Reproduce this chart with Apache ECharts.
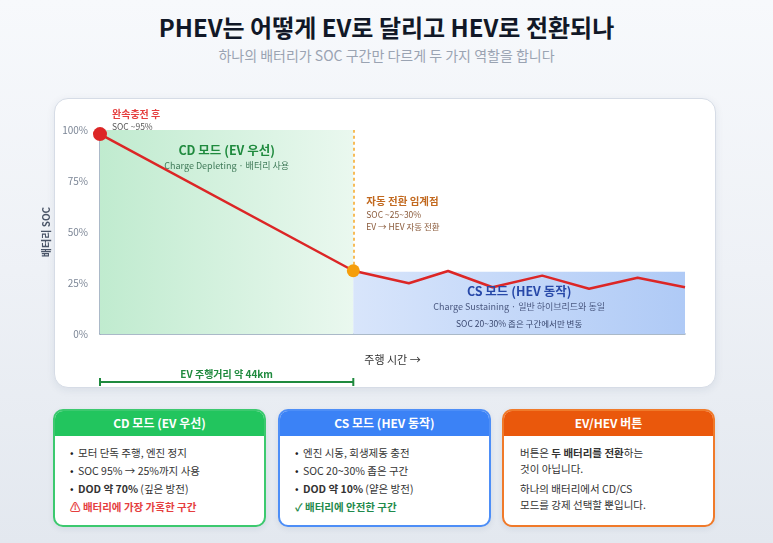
<!DOCTYPE html>
<html><head><meta charset="utf-8">
<script src="https://cdn.jsdelivr.net/npm/echarts@6/dist/echarts.min.js"></script>
<style>
*{box-sizing:border-box;margin:0;padding:0}
body{width:773px;height:543px;overflow:hidden;font-family:"Noto Sans CJK KR","Noto Sans",sans-serif;background:linear-gradient(180deg,#f7f9fc 0%,#eef1f6 50%,#e3e8ef 100%);position:relative;color:#222}
#title{position:absolute;left:0;width:773px;top:10px;text-align:center;font-size:24px;line-height:34px;font-weight:700;color:#111827}
#sub{position:absolute;left:0;width:773px;top:45px;text-align:center;font-size:14px;line-height:20px;color:#9aa3b2}
#card{position:absolute;left:54px;top:98px;width:662px;height:290px;background:#fff;border:1px solid #d6dce6;border-radius:14px;box-shadow:0 2px 8px rgba(30,50,90,0.08)}
#chart{position:absolute;left:0;top:0;width:773px;height:400px}
.box{position:absolute;top:409px;width:213px;height:118px;background:#fff;border:2px solid;border-radius:10px;overflow:hidden;box-shadow:0 2px 6px rgba(30,50,90,0.08)}
.hd{height:25px;line-height:24px;text-align:center;color:#fff;font-weight:700;font-size:12px}
.bd{padding:8px 0 0 15px;font-size:10.5px;color:#333}
.bd .ln{height:18px;line-height:18px}
.bd .ln:before{content:"•";display:inline-block;width:8px;color:#222}
.bd .ln.nb:before{content:none}
.b3 .bd p{line-height:16px}
</style></head><body>
<div id="title">PHEV는 어떻게 EV로 달리고 HEV로 전환되나</div>
<div id="sub">하나의 배터리가 SOC 구간만 다르게 두 가지 역할을 합니다</div>
<div id="card"></div>
<div id="chart"></div>

<div class="box" style="left:53px;border-color:#3cc96f">
  <div class="hd" style="background:#22c55e">CD 모드 (EV 우선)</div>
  <div class="bd">
    <div class="ln">모터 단독 주행, 엔진 정지</div>
    <div class="ln">SOC 95% → 25%까지 사용</div>
    <div class="ln"><b>DOD 약 70%</b> (깊은 방전)</div>
    <div class="ln nb" style="color:#e53e3e;font-weight:700">⚠ 배터리에 가장 가혹한 구간</div>
  </div>
</div>
<div class="box" style="left:278px;border-color:#4d8ef7">
  <div class="hd" style="background:#3b82f6">CS 모드 (HEV 동작)</div>
  <div class="bd">
    <div class="ln">엔진 시동, 회생제동 충전</div>
    <div class="ln">SOC 20~30% 좁은 구간</div>
    <div class="ln"><b>DOD 약 10%</b> (얕은 방전)</div>
    <div class="ln nb" style="color:#1f8a4c;font-weight:700">✓ 배터리에 안전한 구간</div>
  </div>
</div>
<div class="box b3" style="left:502px;border-color:#f07a2a">
  <div class="hd" style="background:#ea580c">EV/HEV 버튼</div>
  <div class="bd" style="padding-left:16px;padding-top:9px">
    <p>버튼은 <b>두 배터리를 전환</b>하는</p>
    <p>것이 아닙니다.</p>
    <p style="margin-top:4px">하나의 배터리에서 CD/CS</p>
    <p>모드를 강제 선택할 뿐입니다.</p>
  </div>
</div>

<script>
// ---- data ----
const timeX = [0, 43.3, 52.8, 59.5, 67.1, 75.6, 83.6, 91.9, 100];
const socY  = [98, 31, 24.9, 30.9, 22.9, 28.6, 22.2, 27.6, 22.9];
const switchIndex = 1;
const csBandTop = 30.5;
const yTicks = [0, 25, 50, 75, 100];

const F = '"Noto Sans CJK KR","Noto Sans",sans-serif';
const chart = echarts.init(document.getElementById('chart'), null, {renderer:'canvas'});
const lineData = timeX.map((x,i)=>[x, socY[i]]);
const switchX = timeX[switchIndex];

const option = {
  animation:false,
  textStyle:{fontFamily:F},
  grid:{left:100, right:88, top:130, bottom:66, containLabel:false, outerBoundsMode:'none'},
  xAxis:{type:'value', min:0, max:100, axisLabel:{show:false}, axisTick:{show:false}, splitLine:{show:false},
    axisLine:{lineStyle:{color:'#8fa2b6', width:1.5}},
    name:'주행 시간 →', nameLocation:'middle', nameGap:20,
    nameTextStyle:{color:'#333', fontSize:11, fontFamily:F}},
  yAxis:{type:'value', min:yTicks[0], max:yTicks[yTicks.length-1], interval:25,
    axisLabel:{formatter:'{value}%', color:'#7c8696', fontSize:10, margin:12, fontFamily:F},
    axisTick:{show:false}, splitLine:{show:false},
    axisLine:{show:true, lineStyle:{color:'#8fa2b6', width:1.5}},
    name:'배터리 SOC', nameLocation:'middle', nameRotate:90, nameGap:44,
    nameTextStyle:{color:'#4a5568', fontSize:10, fontWeight:'bold', fontFamily:F}},
  series:[
    {type:'line', data:lineData, symbol:'none', z:5,
     lineStyle:{color:'#dc2626', width:2.5},
     markArea:{silent:true, z:1, data:[
       [{coord:[0,100], itemStyle:{color:new echarts.graphic.LinearGradient(0,0,1,0,[{offset:0,color:'#c0ebcf'},{offset:1,color:'#eaf8ef'}])}},{coord:[switchX,0]}],
       [{coord:[switchX,csBandTop], itemStyle:{color:new echarts.graphic.LinearGradient(0,0,1,0,[{offset:0,color:'#d8e5fb'},{offset:1,color:'#afcaf6'}])}},{coord:[100,0]}]
     ]},
     markLine:{silent:true, symbol:'none', label:{show:false}, lineStyle:{color:'#f5a623', width:1.5, type:[3,3]},
       data:[[{coord:[switchX, socY[switchIndex]]},{coord:[switchX,100]}]]}
    },
    {type:'scatter', z:6, itemStyle:{opacity:1}, data:[
      {value:lineData[0], symbolSize:14, itemStyle:{color:'#dc2626', opacity:1}},
      {value:lineData[switchIndex], symbolSize:13, itemStyle:{color:'#f59e0b', opacity:1}}
    ]}
  ]
};
chart.setOption(option);

const p0 = chart.convertToPixel({gridIndex:0},[0,100]);
const pS = chart.convertToPixel({gridIndex:0},[switchX,100]);
const pB = chart.convertToPixel({gridIndex:0},[0,0]);
const pE = chart.convertToPixel({gridIndex:0},[100,csBandTop]);
const cdMid = (p0[0]+pS[0])/2;
const csMid = (pS[0]+pE[0])/2;
function T(x,y,text,size,color,bold,align){
  return {type:'text', x:x, y:y, style:{text:text, fontSize:size, fill:color, fontWeight:bold?'bold':'normal', fontFamily:F, align:align||'left', verticalAlign:'middle'}, z:20};
}
const bY = pB[1]+48;
chart.setOption({graphic:[
  T(p0[0]+12, p0[1]-16, '완속충전 후', 10, '#e53e3e', true),
  T(p0[0]+12, p0[1]-3, 'SOC ~95%', 8.5, '#555', false),
  T(cdMid, p0[1]+20, 'CD 모드 (EV 우선)', 12.5, '#1f8a3e', true, 'center'),
  T(cdMid, p0[1]+36, 'Charge Depleting · 배터리 사용', 9, '#3f7a58', false, 'center'),
  T(pS[0]+13, p0[1]+71, '자동 전환 임계점', 10.5, '#c2691f', true),
  T(pS[0]+13, p0[1]+85, 'SOC ~25~30%', 8.5, '#8a5a3a', false),
  T(pS[0]+13, p0[1]+97, 'EV → HEV 자동 전환', 8.5, '#8a5a3a', false),
  T(csMid, pE[1]+19, 'CS 모드 (HEV 동작)', 12.5, '#2748a8', true, 'center'),
  T(csMid, pE[1]+35, 'Charge Sustaining · 일반 하이브리드와 동일', 9, '#4a5880', false, 'center'),
  T(csMid, pE[1]+52, 'SOC 20~30% 좁은 구간에서만 변동', 8.5, '#3a4870', false, 'center'),
  {type:'line', shape:{x1:p0[0], y1:bY, x2:pS[0], y2:bY}, style:{stroke:'#1f8a3e', lineWidth:2}, z:20},
  {type:'line', shape:{x1:p0[0], y1:bY-4, x2:p0[0], y2:bY+4}, style:{stroke:'#1f8a3e', lineWidth:2}, z:20},
  {type:'line', shape:{x1:pS[0], y1:bY-4, x2:pS[0], y2:bY+4}, style:{stroke:'#1f8a3e', lineWidth:2}, z:20},
  T(cdMid, bY-8, 'EV 주행거리 약 44km', 10, '#1f8a3e', true, 'center')
]});
</script>
</body></html>
